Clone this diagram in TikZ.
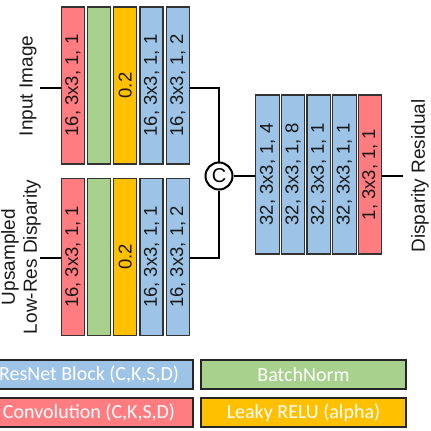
\documentclass[tikz,border=0pt]{standalone}
\usepackage{fontspec}
\setmainfont{Liberation Sans}
\newfontfamily\legfont{Carlito}
\begin{document}
\begin{tikzpicture}[x=1pt,y=-1pt,
  blk/.style={draw=black!80, line width=1.1pt, rotate=90, inner sep=0pt,
    minimum height=23pt, text=black!90, font=\fontsize{18.5}{18.5}\selectfont},
  toprow/.style={blk, minimum width=157pt},
  rightrow/.style={blk, minimum width=159pt, minimum height=23.5pt},
  leg/.style={draw=black!85, line width=1.2pt, inner sep=0pt, minimum height=29pt,
    text=white, font=\legfont\fontsize{20}{20}\selectfont},
  wire/.style={line width=2.8pt, black},
  lbl/.style={rotate=90, font=\fontsize{19}{22}\selectfont, text=black!90, align=center}
]
\definecolor{cred}{HTML}{FF7C80}
\definecolor{cgreen}{HTML}{A9D18E}
\definecolor{cyel}{HTML}{FFC000}
\definecolor{cblue}{HTML}{9DC3E6}
\useasboundingbox (0,0) rectangle (431,431);
% top row
\node[toprow, fill=cred]   (a1) at (72.75,85.5) {16, 3x3, 1, 1};
\node[toprow, fill=cgreen] (a2) at (99,85.5) {};
\node[toprow, fill=cyel]   (a3) at (125.25,85.5) {0.2};
\node[toprow, fill=cblue]  (a4) at (151.5,85.5) {16, 3x3, 1, 1};
\node[toprow, fill=cblue]  (a5) at (177.75,85.5) {16, 3x3, 1, 2};
% bottom row
\node[toprow, fill=cred]   (b1) at (72.75,257) {16, 3x3, 1, 1};
\node[toprow, fill=cgreen] (b2) at (99,257) {};
\node[toprow, fill=cyel]   (b3) at (125.25,257) {0.2};
\node[toprow, fill=cblue]  (b4) at (151.5,257) {16, 3x3, 1, 1};
\node[toprow, fill=cblue]  (b5) at (177.75,257) {16, 3x3, 1, 2};
% right column
\node[rightrow, fill=cblue] (c1) at (267.5,174.5) {32, 3x3, 1, 4};
\node[rightrow, fill=cblue] (c2) at (293.1,174.5) {32, 3x3, 1, 8};
\node[rightrow, fill=cblue] (c3) at (318.7,174.5) {32, 3x3, 1, 1};
\node[rightrow, fill=cblue] (c4) at (344.3,174.5) {32, 3x3, 1, 1};
\node[rightrow, fill=cred]  (c5) at (369.9,174.5) {1, 3x3, 1, 1};
% concat
\node[circle, draw=black, line width=2pt, fill=white, minimum size=27pt, inner sep=0pt,
  font=\fontsize{20}{20}\selectfont] (cat) at (219,176) {C};
% labels
\node[lbl] (linp) at (28,86) {Input Image};
\node[lbl] (llow) at (21,257) {Upsampled\\Low-Res Disparity};
\node[lbl] (lout) at (420,176) {Disparity Residual};
\coordinate (i1) at (40,88);
\coordinate (i2) at (40,258);
\coordinate (o1) at (403,176);
% wires
\draw[wire] (i1) -- (i1 -| a1.north);
\draw[wire] (i2) -- (i2 -| b1.north);
\draw[wire] (a5.south |- i1) -| (cat.north);
\draw[wire] (b5.south |- i2) -| (cat.south);
\draw[wire] (cat.east) -- (cat.east -| c1.north);
\draw[wire] (c5.south |- o1) -- (o1);
% legend
\node[leg, fill=cblue, minimum width=208pt] (g1) at (89,374.5) {ResNet Block (C,K,S,D)};
\node[leg, fill=cgreen, minimum width=205pt] (g2) at (303.5,374.5) {BatchNorm};
\node[leg, fill=cred, minimum width=208pt] (g3) at (89,412.5) {Convolution (C,K,S,D)};
\node[leg, fill=cyel, minimum width=205pt] (g4) at (303.5,412.5) {Leaky RELU (alpha)};
\end{tikzpicture}
\end{document}
